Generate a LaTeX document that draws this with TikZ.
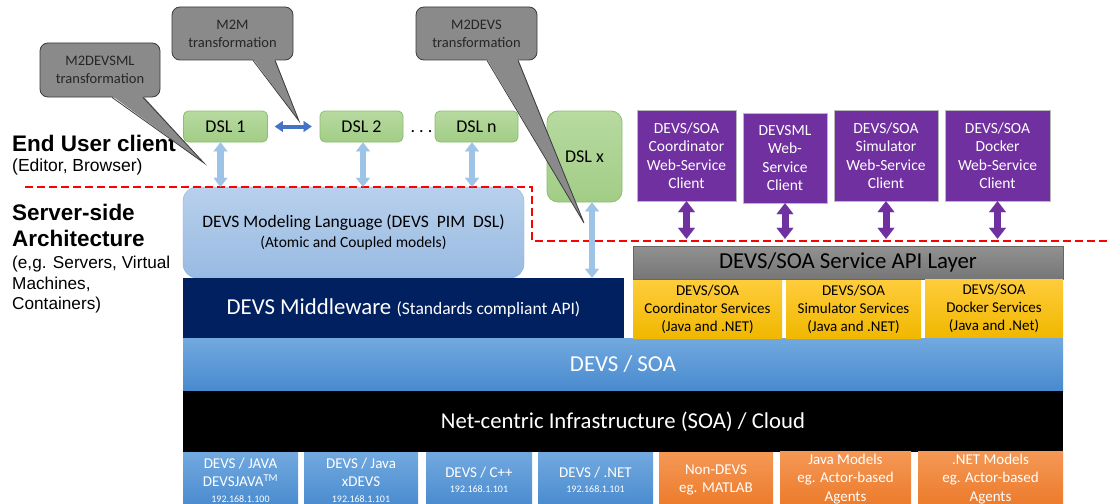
\documentclass[tikz,border=0pt]{standalone}
\usepackage{fontspec}
\setmainfont{Carlito}
\newfontfamily\arialfont{Liberation Sans}
\usetikzlibrary{arrows.meta,calc}
\newcommand{\fsz}[2]{\fontsize{#1}{#2}\selectfont}

\definecolor{calloutgray}{RGB}{138,138,138}
\definecolor{calloutline}{RGB}{60,60,60}
\definecolor{dsltop}{RGB}{183,218,160}
\definecolor{dslbot}{RGB}{162,205,134}
\definecolor{dslline}{RGB}{140,190,112}
\definecolor{lightarrow}{RGB}{157,195,230}
\definecolor{linkblue}{RGB}{68,114,196}
\definecolor{dmltop}{RGB}{184,208,236}
\definecolor{dmlbot}{RGB}{152,186,226}
\definecolor{dmlline}{RGB}{140,175,218}
\definecolor{navy}{RGB}{0,32,96}
\definecolor{soatop}{RGB}{114,169,223}
\definecolor{soabot}{RGB}{72,138,206}
\definecolor{clientpurple}{RGB}{112,48,160}
\definecolor{svctop}{RGB}{255,204,60}
\definecolor{svcbot}{RGB}{240,184,0}
\definecolor{apitop}{RGB}{145,145,145}
\definecolor{apibot}{RGB}{118,118,118}
\definecolor{orangetop}{RGB}{244,152,86}
\definecolor{orangebot}{RGB}{236,122,42}

\tikzset{
  box/.style={inner sep=0pt, align=center},
  dsl/.style={box, draw=dslline, line width=0.8pt, top color=dsltop, bottom color=dslbot, rounded corners=5pt, font=\fsz{18}{21}},
  callout/.style={box, draw=calloutline, line width=0.8pt, fill=calloutgray, rounded corners=8pt, text=black!85, font=\fsz{14.5}{18}},
  client/.style={box, draw=gray!55, fill=clientpurple, text=white, font=\fsz{15.5}{18.5}},
  service/.style={box, top color=svctop, bottom color=svcbot, font=\fsz{15}{18}},
  platform/.style={box, top color=soatop, bottom color=soabot, text=white, font=\fsz{15}{18.5}},
  nondevs/.style={box, top color=orangetop, bottom color=orangebot, text=white, font=\fsz{15}{18.5}},
  sidetitle/.style={anchor=base west, inner sep=0pt, font=\arialfont\bfseries\fsz{22.5}{26}},
  sidenote/.style={anchor=base west, inner sep=0pt, font=\arialfont\fsz{17.2}{20}},
  tail/.style={draw=calloutline, line width=0.8pt, line join=miter},
  dslarrow/.style={draw=lightarrow, line width=6.5pt, {Triangle[width=14pt,length=9pt,line width=0.1pt]}-{Triangle[width=14pt,length=9pt,line width=0.1pt]}},
  linkarrow/.style={draw=linkblue, line width=4pt, {Triangle[width=11pt,length=8pt,line width=0.1pt]}-{Triangle[width=11pt,length=8pt,line width=0.1pt]}},
  clientarrow/.style={draw=clientpurple, line width=7pt, {Triangle[width=17pt,length=11pt,line width=0.1pt]}-{Triangle[width=17pt,length=11pt,line width=0.1pt]}},
  boundary/.style={draw=red, line width=2.5pt, dash pattern=on 8pt off 4pt}
}

\begin{document}
\begin{tikzpicture}[x=1pt,y=-1pt]
  \clip (0,0) rectangle (1110,503);
  \fill[white] (0,0) rectangle (1110,503);

  % side labels
  \node[sidetitle] (enduser) at (12,151) {End User client};
  \node[sidenote, font=\arialfont\fsz{17.5}{20}] (editor) at (12,171) {(Editor, Browser)};
  \node[sidetitle] (serverside) at (12,220) {Server-side};
  \node[sidetitle] (architecture) at (12,246) {Architecture};
  \node[sidenote] (eg) at (12,268) {(e,g. Servers, Virtual};
  \node[sidenote] (machines) at (12,289) {Machines,};
  \node[sidenote] (containers) at (12,309) {Containers)};

  % DSL row
  \node[dsl, minimum width=84, minimum height=31] (dsl1) at (225.5,126.5) {DSL 1};
  \node[dsl, minimum width=83, minimum height=31] (dsl2) at (361.5,126.5) {DSL 2};
  \node[dsl, minimum width=83, minimum height=31] (dsln) at (476.5,126.5) {DSL n};
  \node[anchor=base, inner sep=0pt, font=\fsz{18}{21}] (dots) at (421.5,132) {.\ .\ .};
  \node[dsl, rounded corners=11pt, minimum width=75, minimum height=91] (dslx) at (584.5,156.5) {DSL x};

  % server side layers
  \node[box, draw=dmlline, top color=dmltop, bottom color=dmlbot, rounded corners=14pt,
        minimum width=341, minimum height=91, font=\fsz{17.5}{20}] (dml) at (353.5,232.5)
        {DEVS Modeling Language (DEVS~ PIM~ DSL)\\{\fsz{15.5}{18}(Atomic and Coupled models)}};
  \node[box, fill=navy, text=white, minimum width=441, minimum height=60, font=\fsz{22.8}{24}] (mw) at (403.5,308)
        {DEVS Middleware {\fsz{17.5}{18}(Standards compliant API)}};
  \node[box, top color=soatop, bottom color=soabot, text=white, minimum width=880, minimum height=53,
        font=\fsz{22.8}{24}] (soa) at (623,364.5) {DEVS / SOA};
  \node[box, fill=black, text=white, minimum width=880, minimum height=61, font=\fsz{22.7}{24}] (net) at (623,421.5)
        {Net-centric Infrastructure (SOA) / Cloud};

  % service API layer
  \node[box, draw=black!60, top color=apitop, bottom color=apibot, minimum width=430, minimum height=33,
        font=\fsz{22.8}{24}] (api) at (848,262.5) {DEVS/SOA Service API Layer};
  \node[service, minimum width=149, minimum height=58] (coordsvc) at (707.5,309)
        {DEVS/SOA\\Coordinator Services\\(Java and .NET)};
  \node[service, minimum width=135, minimum height=58] (simsvc) at (853.5,309)
        {DEVS/SOA\\Simulator Services\\(Java and .NET)};
  \node[service, minimum width=138, minimum height=58] (dockersvc) at (994,308)
        {DEVS/SOA\\Docker Services\\(Java and .Net)};

  % web-service clients
  \node[client, minimum width=99, minimum height=91] (coordclient) at (686.5,155.5)
        {DEVS/SOA\\Coordinator\\Web-Service\\Client};
  \node[client, minimum width=84, minimum height=90] (mlclient) at (785,158)
        {DEVSML\\Web-\\Service\\Client};
  \node[client, minimum width=104, minimum height=91] (simclient) at (886,155.5)
        {DEVS/SOA\\Simulator\\Web-Service\\Client};
  \node[client, minimum width=105, minimum height=91] (dockerclient) at (997.5,155.5)
        {DEVS/SOA\\Docker\\Web-Service\\Client};

  % platforms
  \node[platform, minimum width=115, minimum height=56] (devsjava) at (240.5,480)
        {DEVS / JAVA\\DEVSJAVA\textsuperscript{TM}\\[-3pt]{\fsz{10}{12}192.168.1.100}};
  \node[platform, minimum width=114, minimum height=56] (xdevs) at (361,480)
        {DEVS / Java\\xDEVS\\[-3pt]{\fsz{10}{12}192.168.1.101}};
  \node[platform, minimum width=106, minimum height=56] (devscpp) at (479,480)
        {DEVS / C++\\[-3pt]{\fsz{10}{12}192.168.1.101}};
  \node[platform, minimum width=115, minimum height=56] (devsnet) at (595.5,480)
        {DEVS / .NET\\[-3pt]{\fsz{10}{12}192.168.1.101}};
  \node[nondevs, minimum width=114, minimum height=56] (matlab) at (716,480)
        {Non-DEVS\\eg. MATLAB};
  \node[nondevs, minimum width=131, minimum height=56] (javamodels) at (845.5,479)
        {Java Models\\eg. Actor-based\\Agents};
  \node[nondevs, minimum width=145, minimum height=56] (netmodels) at (990.5,479)
        {.NET Models\\eg. Actor-based\\Agents};

  % client / server boundary
  \draw[boundary] (25,187) -- (532,187) -- (532,241) -- (1112,241);

  % connectors
  \draw[linkarrow, shorten <=7pt, shorten >=8pt] (dsl1.east) -- (dsl2.west);
  \draw[dslarrow] ([xshift=-5pt]dsl1.south) -- ([xshift=-5pt]dsl1.south |- dml.north);
  \draw[dslarrow] ([xshift=1.5pt]dsl2.south) -- ([xshift=1.5pt]dsl2.south |- dml.north);
  \draw[dslarrow] ([xshift=-4.5pt]dsln.south) -- ([xshift=-4.5pt]dsln.south |- dml.north);
  \draw[dslarrow] ([xshift=7.5pt]dslx.south) -- ([xshift=7.5pt]dslx.south |- mw.north);
  \foreach \c in {coordclient,mlclient,simclient,dockerclient}
    \draw[clientarrow, shorten >=7pt] (\c.south) -- (\c.south |- api.north);

  % callouts
  \node[callout, minimum width=120, minimum height=54] (m2devsml) at (100,70) {M2DEVSML\\transformation};
  \coordinate (m2devsmltip) at (204,163);
  \fill[calloutgray] ($(m2devsml.south)+(12,-1.5)$) -- (m2devsmltip) -- ($(m2devsml.south)+(43,-1.5)$) -- cycle;
  \draw[tail] ($(m2devsml.south)+(12,0)$) -- (m2devsmltip) -- ($(m2devsml.south)+(43,0)$);

  \node[callout, minimum width=121, minimum height=53] (m2m) at (232.5,33.5) {M2M\\transformation};
  \coordinate (m2mtip) at (299,121);
  \fill[calloutgray] ($(m2m.south)+(20.5,-1.5)$) -- (m2mtip) -- ($(m2m.south)+(42.5,-1.5)$) -- cycle;
  \draw[tail] ($(m2m.south)+(20.5,0)$) -- (m2mtip) -- ($(m2m.south)+(42.5,0)$);

  \node[callout, minimum width=121, minimum height=53] (m2devs) at (476.5,33.5) {M2DEVS\\transformation};
  \coordinate (m2devstip) at (584,223);
  \fill[calloutgray] ($(m2devs.south)+(10.5,-1.5)$) -- (m2devstip) -- ($(m2devs.south)+(41.5,-1.5)$) -- cycle;
  \draw[tail] ($(m2devs.south)+(10.5,0)$) -- (m2devstip) -- ($(m2devs.south)+(41.5,0)$);
\end{tikzpicture}
\end{document}
